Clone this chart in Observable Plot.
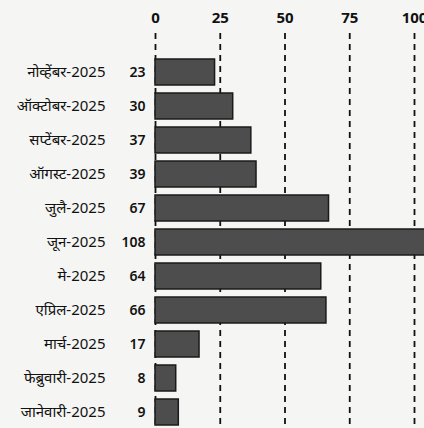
<!DOCTYPE html>
<html>
<head>
<meta charset="utf-8">
<script src="https://cdn.jsdelivr.net/npm/d3@7"></script>
<script src="https://cdn.jsdelivr.net/npm/@observablehq/plot@0.6"></script>
<style>
  html, body { margin: 0; padding: 0; background: #f5f5f3; }
</style>
</head>
<body>
<div id="chart"></div>
<script>
const months = ["नोव्हेंबर-2025","ऑक्टोबर-2025","सप्टेंबर-2025","ऑगस्ट-2025","जुलै-2025","जून-2025","मे-2025","एप्रिल-2025","मार्च-2025","फेब्रुवारी-2025","जानेवारी-2025"];
const values = [23, 30, 37, 39, 67, 108, 64, 66, 17, 8, 9];
const xTicks = [0, 25, 50, 75, 100];

const data = months.map((m, i) => ({month: m, value: values[i]}));

const chart = Plot.plot({
  width: 424,
  height: 428,
  marginLeft: 155,
  marginRight: 10,
  marginTop: 57,
  marginBottom: 1,
  style: {fontFamily: "'Noto Sans', 'Open Sans', sans-serif", fontSize: "14px", background: "#f5f5f3", color: "#111"},
  x: {domain: [0, 100], axis: null},
  y: {domain: months, paddingInner: 0.25, paddingOuter: 0, axis: null},
  marks: [
    Plot.ruleX(xTicks, {x: d => d, stroke: "#111", strokeWidth: 1.8, strokeDasharray: "6,5", insetTop: -24}),
    Plot.barX(data, {x: "value", y: "month", fill: "#4d4d4d", stroke: "#1a1a1a", strokeWidth: 1.5}),
    Plot.axisX(xTicks, {anchor: "top", tickSize: 0, tickPadding: 35, fontSize: 15, fontWeight: "bold", label: null}),
    Plot.axisY({tickSize: 0, tickPadding: 50, fontSize: 15, label: null}),
    Plot.text(data, {y: "month", text: "value", frameAnchor: "left", dx: -10, textAnchor: "end", fontWeight: 600, fontSize: 14})
  ]
});
document.getElementById("chart").appendChild(chart);
</script>
</body>
</html>
